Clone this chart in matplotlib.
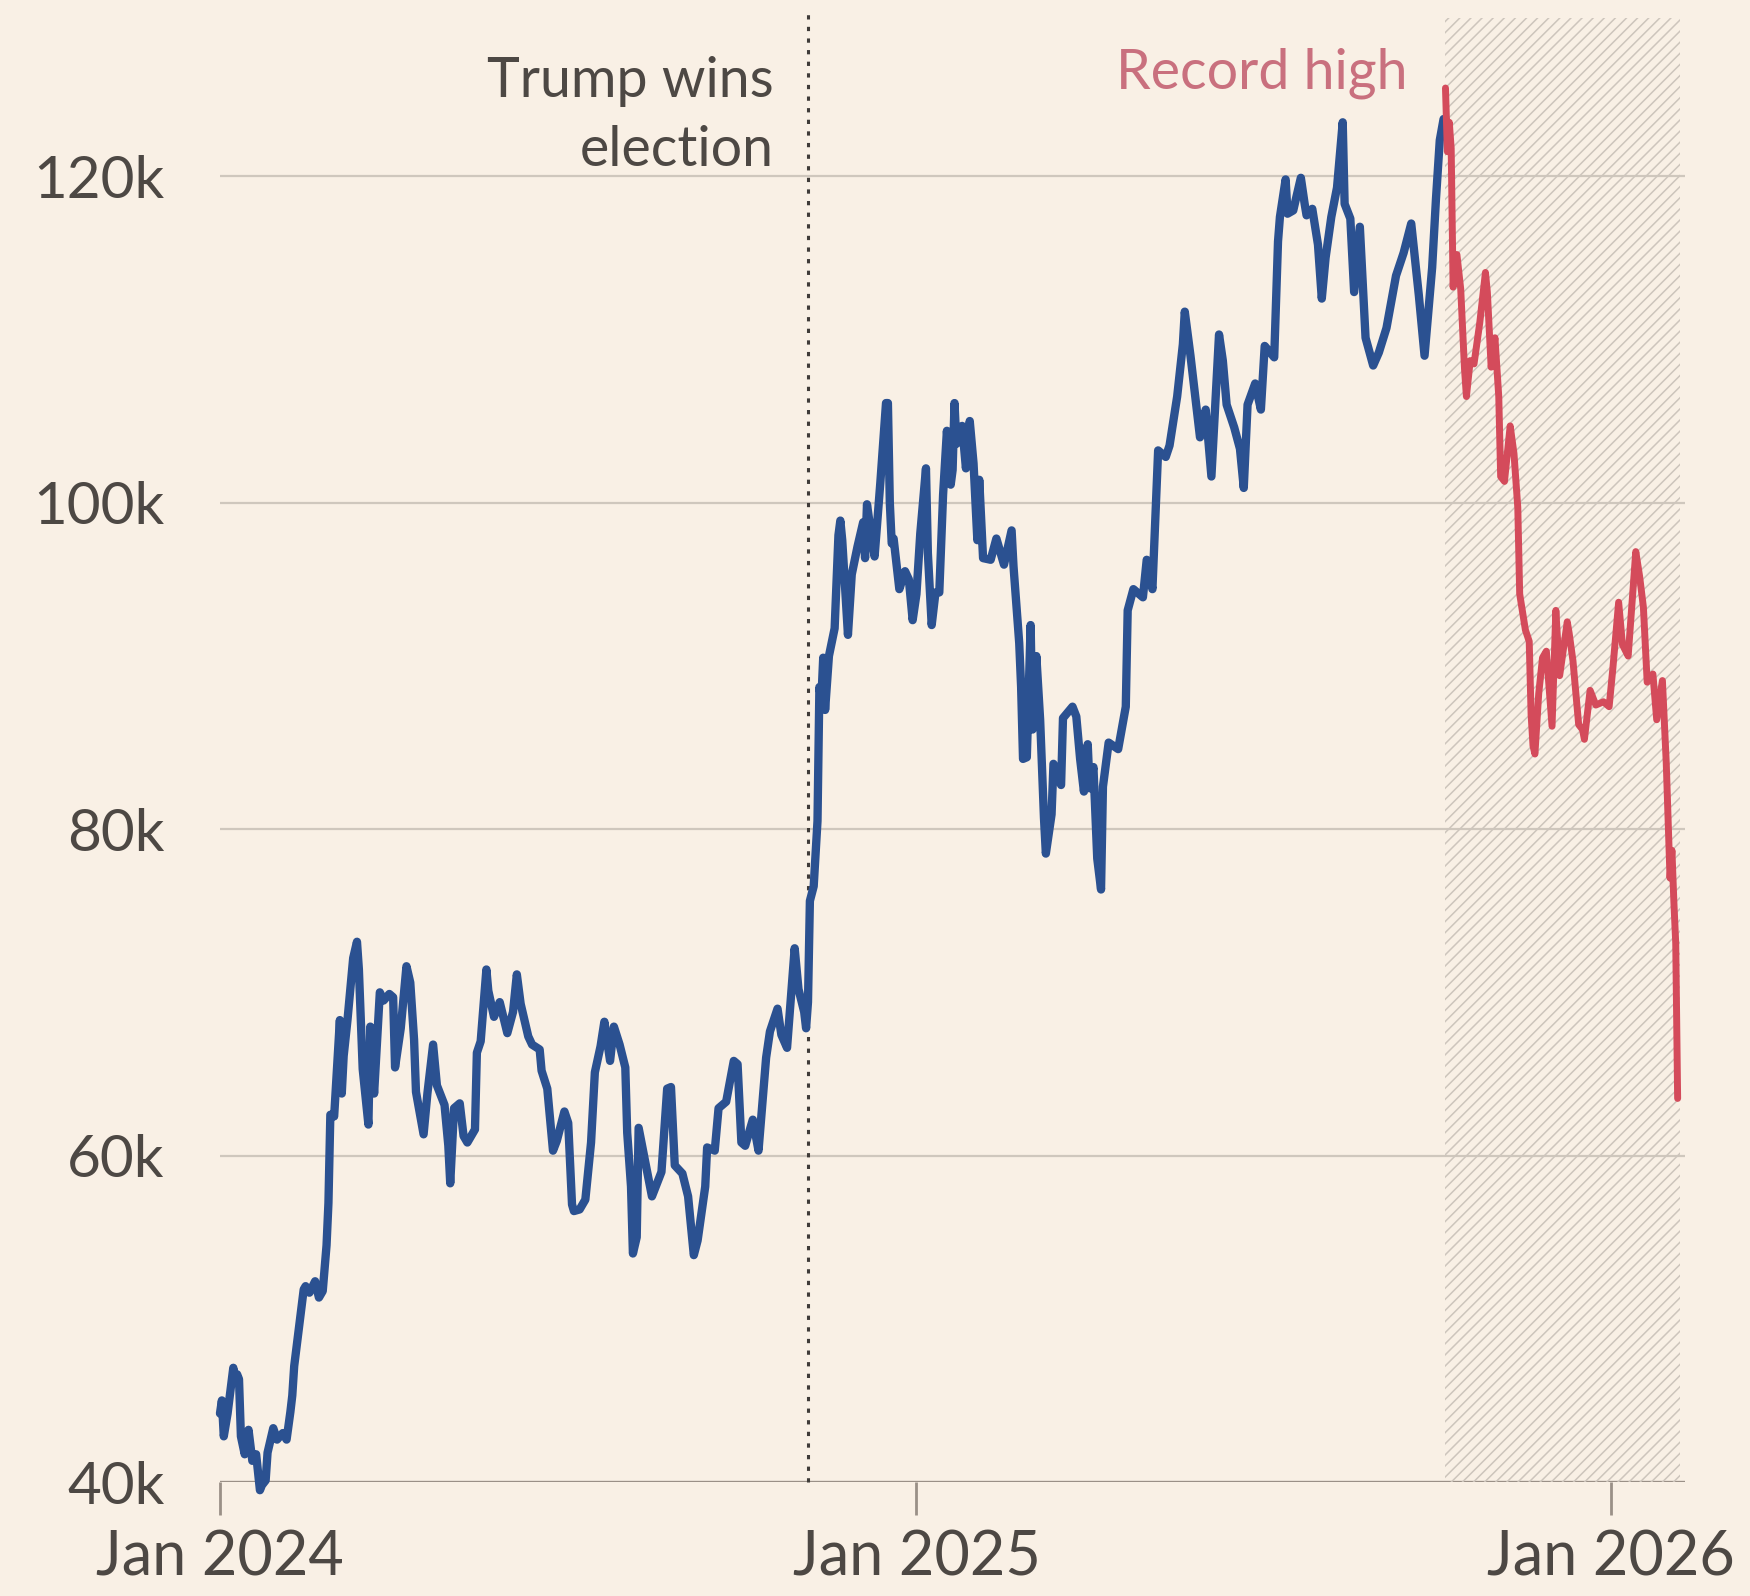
import matplotlib.pyplot as plt
import pandas as pd

# Bitcoin price, $k
blue_dates = [
    "2024-01-01", "2024-01-02", "2024-01-03", "2024-01-05", "2024-01-08", "2024-01-09",
    "2024-01-10", "2024-01-11", "2024-01-12", "2024-01-14", "2024-01-16", "2024-01-18",
    "2024-01-20", "2024-01-22", "2024-01-23", "2024-01-25", "2024-01-26", "2024-01-29",
    "2024-01-31", "2024-02-03", "2024-02-05", "2024-02-07", "2024-02-08", "2024-02-09",
    "2024-02-12", "2024-02-14", "2024-02-15", "2024-02-17", "2024-02-20", "2024-02-22",
    "2024-02-24", "2024-02-26", "2024-02-27", "2024-02-28", "2024-03-01", "2024-03-04",
    "2024-03-05", "2024-03-06", "2024-03-08", "2024-03-11", "2024-03-13", "2024-03-14",
    "2024-03-16", "2024-03-19", "2024-03-20", "2024-03-22", "2024-03-25", "2024-03-27",
    "2024-03-30", "2024-04-01", "2024-04-02", "2024-04-05", "2024-04-08", "2024-04-10",
    "2024-04-12", "2024-04-13", "2024-04-17", "2024-04-19", "2024-04-22", "2024-04-24",
    "2024-04-28", "2024-04-30", "2024-05-01", "2024-05-03", "2024-05-06", "2024-05-08",
    "2024-05-10", "2024-05-14", "2024-05-15", "2024-05-17", "2024-05-20", "2024-05-21",
    "2024-05-24", "2024-05-27", "2024-05-31", "2024-06-03", "2024-06-05", "2024-06-07",
    "2024-06-11", "2024-06-13", "2024-06-17", "2024-06-18", "2024-06-21", "2024-06-24",
    "2024-06-26", "2024-06-30", "2024-07-02", "2024-07-04", "2024-07-05", "2024-07-08",
    "2024-07-11", "2024-07-14", "2024-07-16", "2024-07-19", "2024-07-21", "2024-07-24",
    "2024-07-26", "2024-07-29", "2024-08-01", "2024-08-02", "2024-08-04", "2024-08-05",
    "2024-08-07", "2024-08-08", "2024-08-12", "2024-08-15", "2024-08-20", "2024-08-23",
    "2024-08-25", "2024-08-27", "2024-08-31", "2024-09-03", "2024-09-06", "2024-09-08",
    "2024-09-12", "2024-09-13", "2024-09-17", "2024-09-19", "2024-09-23", "2024-09-27",
    "2024-09-29", "2024-10-01", "2024-10-03", "2024-10-07", "2024-10-10", "2024-10-14",
    "2024-10-16", "2024-10-20", "2024-10-22", "2024-10-25", "2024-10-29", "2024-10-31",
    "2024-11-03", "2024-11-04", "2024-11-05", "2024-11-06", "2024-11-08", "2024-11-10",
    "2024-11-11", "2024-11-12", "2024-11-13", "2024-11-14", "2024-11-16", "2024-11-19",
    "2024-11-21", "2024-11-22", "2024-11-23", "2024-11-26", "2024-11-28", "2024-12-01",
    "2024-12-04", "2024-12-05", "2024-12-06", "2024-12-09", "2024-12-10", "2024-12-13",
    "2024-12-16", "2024-12-17", "2024-12-18", "2024-12-19", "2024-12-20", "2024-12-23",
    "2024-12-26", "2024-12-28", "2024-12-30", "2025-01-01", "2025-01-03", "2025-01-06",
    "2025-01-07", "2025-01-09", "2025-01-11", "2025-01-13", "2025-01-15", "2025-01-17",
    "2025-01-19", "2025-01-20", "2025-01-21", "2025-01-22", "2025-01-25", "2025-01-27",
    "2025-01-29", "2025-01-31", "2025-02-02", "2025-02-03", "2025-02-05", "2025-02-09",
    "2025-02-12", "2025-02-16", "2025-02-20", "2025-02-21", "2025-02-24", "2025-02-25",
    "2025-02-26", "2025-02-28", "2025-03-02", "2025-03-03", "2025-03-05", "2025-03-07",
    "2025-03-09", "2025-03-10", "2025-03-13", "2025-03-14", "2025-03-18", "2025-03-19",
    "2025-03-24", "2025-03-26", "2025-03-28", "2025-03-30", "2025-04-01", "2025-04-02",
    "2025-04-04", "2025-04-06", "2025-04-08", "2025-04-09", "2025-04-12", "2025-04-17",
    "2025-04-21", "2025-04-22", "2025-04-25", "2025-04-30", "2025-05-02", "2025-05-05",
    "2025-05-08", "2025-05-12", "2025-05-14", "2025-05-18", "2025-05-21", "2025-05-22",
    "2025-05-25", "2025-05-30", "2025-06-02", "2025-06-05", "2025-06-09", "2025-06-11",
    "2025-06-13", "2025-06-17", "2025-06-20", "2025-06-22", "2025-06-24", "2025-06-28",
    "2025-07-01", "2025-07-03", "2025-07-08", "2025-07-10", "2025-07-11", "2025-07-14",
    "2025-07-15", "2025-07-18", "2025-07-22", "2025-07-24", "2025-07-25", "2025-07-28",
    "2025-07-31", "2025-08-02", "2025-08-04", "2025-08-07", "2025-08-10", "2025-08-13",
    "2025-08-14", "2025-08-17", "2025-08-19", "2025-08-22", "2025-08-25", "2025-08-29",
    "2025-09-01", "2025-09-05", "2025-09-10", "2025-09-14", "2025-09-18", "2025-09-22",
    "2025-09-25", "2025-09-29", "2025-10-01", "2025-10-03", "2025-10-05",
]
blue_values = [
    44.2, 45.0, 42.8, 44.2, 47.0, 46.1,
    46.6, 46.3, 42.8, 41.7, 43.2, 41.3,
    41.7, 39.5, 39.8, 40.1, 41.8, 43.3,
    42.6, 43.0, 42.6, 44.3, 45.3, 47.1,
    49.9, 51.8, 52.0, 51.6, 52.3, 51.3,
    51.7, 54.5, 57.1, 62.5, 62.4, 68.3,
    63.8, 66.1, 68.3, 72.1, 73.1, 71.4,
    65.3, 61.9, 67.9, 63.8, 70.0, 69.5,
    69.9, 69.7, 65.4, 67.8, 71.6, 70.6,
    67.1, 63.9, 61.3, 63.8, 66.8, 64.3,
    63.1, 60.6, 58.3, 62.9, 63.2, 61.2,
    60.8, 61.6, 66.3, 67.0, 71.4, 70.1,
    68.5, 69.4, 67.5, 68.8, 71.1, 69.3,
    67.3, 66.8, 66.5, 65.2, 64.1, 60.3,
    60.9, 62.7, 62.0, 57.0, 56.6, 56.7,
    57.3, 60.8, 65.1, 66.7, 68.2, 65.8,
    67.9, 66.8, 65.4, 61.4, 58.1, 54.0,
    55.0, 61.7, 59.3, 57.5, 59.0, 64.1,
    64.2, 59.4, 58.9, 57.5, 53.9, 54.8,
    58.1, 60.5, 60.3, 62.9, 63.3, 65.8,
    65.6, 60.8, 60.6, 62.2, 60.3, 66.0,
    67.6, 69.0, 67.4, 66.6, 72.7, 70.2,
    68.8, 67.8, 69.4, 75.6, 76.5, 80.5,
    88.7, 87.9, 90.5, 87.3, 90.6, 92.3,
    98.0, 98.9, 97.7, 91.9, 95.6, 97.3,
    98.8, 96.6, 99.9, 97.4, 96.7, 101.2,
    106.1, 106.1, 100.0, 97.5, 97.8, 94.7,
    95.8, 95.3, 92.8, 94.4, 98.1, 102.1,
    96.9, 92.5, 94.5, 94.5, 100.5, 104.4,
    101.1, 102.0, 106.1, 103.6, 104.7, 102.1,
    105.0, 102.4, 97.7, 101.4, 96.6, 96.5,
    97.8, 96.2, 98.3, 96.1, 91.4, 88.7,
    84.3, 84.4, 92.5, 86.1, 90.6, 86.7,
    80.7, 78.5, 80.9, 84.0, 82.7, 86.8,
    87.5, 86.9, 84.3, 82.3, 85.2, 82.5,
    83.8, 78.2, 76.3, 82.6, 85.3, 84.9,
    87.5, 93.4, 94.7, 94.2, 96.5, 94.7,
    103.2, 102.8, 103.5, 106.5, 109.7, 111.7,
    109.0, 104.0, 105.7, 101.6, 110.3, 108.7,
    106.0, 104.6, 103.3, 100.9, 106.0, 107.3,
    105.7, 109.6, 108.9, 116.0, 117.5, 119.8,
    117.7, 117.9, 119.9, 118.3, 117.6, 118.0,
    115.8, 112.5, 115.0, 117.5, 119.3, 123.3,
    118.3, 117.4, 112.9, 116.9, 110.1, 108.4,
    109.2, 110.7, 113.9, 115.3, 117.1, 112.7,
    109.0, 114.4, 118.6, 122.2, 123.5,
]

# after the record high
red_dates = [
    "2025-10-06", "2025-10-07", "2025-10-08", "2025-10-09", "2025-10-10", "2025-10-12",
    "2025-10-14", "2025-10-16", "2025-10-17", "2025-10-19", "2025-10-21", "2025-10-24",
    "2025-10-27", "2025-10-28", "2025-10-30", "2025-11-01", "2025-11-03", "2025-11-04",
    "2025-11-06", "2025-11-09", "2025-11-11", "2025-11-13", "2025-11-14", "2025-11-17",
    "2025-11-19", "2025-11-20", "2025-11-21", "2025-11-22", "2025-11-24", "2025-11-26",
    "2025-11-28", "2025-12-01", "2025-12-03", "2025-12-05", "2025-12-09", "2025-12-10",
    "2025-12-12", "2025-12-15", "2025-12-17", "2025-12-18", "2025-12-21", "2025-12-24",
    "2025-12-28", "2025-12-31", "2026-01-02", "2026-01-05", "2026-01-07", "2026-01-10",
    "2026-01-13", "2026-01-14", "2026-01-16", "2026-01-18", "2026-01-20", "2026-01-23",
    "2026-01-25", "2026-01-28", "2026-01-30", "2026-02-01", "2026-02-02", "2026-02-03",
    "2026-02-04", "2026-02-05",
]
red_values = [
    125.4, 121.5, 123.3, 121.7, 113.2, 115.2,
    113.1, 108.2, 106.5, 108.7, 108.5, 111.0,
    114.1, 112.9, 108.3, 110.1, 106.5, 101.6,
    101.3, 104.7, 103.0, 99.7, 94.4, 92.2,
    91.5, 87.0, 85.1, 84.6, 88.3, 90.5,
    90.9, 86.3, 93.4, 89.4, 92.7, 92.0,
    90.3, 86.4, 86.1, 85.5, 88.5, 87.6,
    87.8, 87.5, 89.9, 93.9, 91.3, 90.6,
    95.4, 97.0, 95.5, 93.6, 89.0, 89.5,
    86.7, 89.1, 84.1, 77.0, 78.7, 75.6,
    73.0, 63.5,
]

y_ticks = [40, 60, 80, 100, 120]
y_labels = ["40k", "60k", "80k", "100k", "120k"]
x_ticks = ["2024-01-01", "2025-01-01", "2026-01-01"]
x_labels = ["Jan 2024", "Jan 2025", "Jan 2026"]

election_date = "2024-11-05"
record_date = "2025-10-06"
hatch_end = "2026-02-06"

bg = "#f9f0e5"
text_col = "#4d4844"
plt.rcParams['font.family'] = ['Lato', 'DejaVu Sans']
plt.rcParams['hatch.linewidth'] = 1.1
plt.rcParams['hatch.color'] = "#cdc5bc"

fig = plt.figure(figsize=(17.5, 15.96), dpi=100, facecolor=bg)
ax = fig.add_axes([0.1257, 0.0714, 0.8373, 0.9205])
ax.set_facecolor(bg)

xb = pd.to_datetime(blue_dates)
xr = pd.to_datetime(red_dates)

# grid
for v in y_ticks[1:]:
    ax.axhline(v, color="#cfc7bd", lw=1.6, zorder=1)
ax.axhline(y_ticks[0], color="#9a9087", lw=2.4, zorder=1)

# shaded period after the record
ax.fill_between(pd.to_datetime([record_date, hatch_end]), 40, 129.7,
                facecolor="none", edgecolor="#cdc5bc", hatch="///", linewidth=0, zorder=1)

# election marker
ax.plot(pd.to_datetime([election_date, election_date]), [40, 130], color="#3f3b38",
        lw=2.2, linestyle=(0, (1.4, 2.4)), zorder=2, clip_on=False)

ax.plot(xb, blue_values, color="#2b5191", lw=6.0, zorder=3, clip_on=False,
        solid_joinstyle="round", solid_capstyle="round")
ax.plot(xr, red_values, color="#d44b5b", lw=5.0, zorder=3, clip_on=False,
        solid_joinstyle="round", solid_capstyle="round")

ax.annotate("Trump wins\nelection", xy=(pd.Timestamp(election_date), 123.7),
            xytext=(-25, 0), textcoords="offset points", ha="right", va="center",
            multialignment="right", linespacing=1.45, fontsize=40, color=text_col)
ax.annotate("Record high", xy=(pd.Timestamp(record_date), 126.3),
            xytext=(-27, 0), textcoords="offset points", ha="right", va="center",
            fontsize=40, color="#c9707e")

ax.set_xlim(pd.Timestamp("2024-01-01"), pd.Timestamp("2026-02-09"))
ax.set_ylim(40, 130)

ax.set_yticks(y_ticks)
ax.set_yticklabels(y_labels)
ax.set_xticks(pd.to_datetime(x_ticks))
ax.set_xticklabels(x_labels)

ax.tick_params(axis="y", length=0, pad=40, labelsize=42, labelcolor=text_col)
ax.tick_params(axis="x", length=24, width=2, color="#9a9087", pad=10,
               labelsize=44, labelcolor=text_col)

for s in ax.spines.values():
    s.set_visible(False)

fig.savefig("out.png", dpi=100, facecolor=bg)
